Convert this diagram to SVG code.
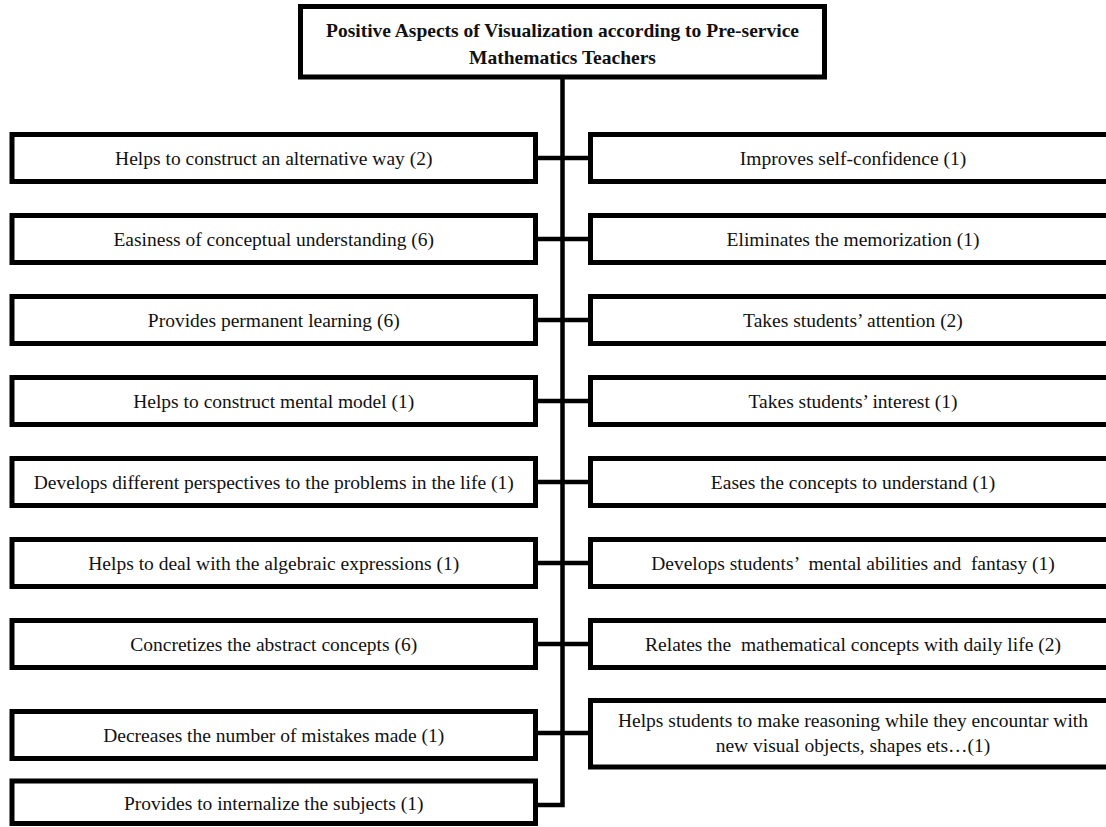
<svg xmlns="http://www.w3.org/2000/svg" width="1106" height="827" viewBox="0 0 1106 827">
<style>
.box{fill:#fff;stroke:#000;stroke-width:5}
.t{font-family:"Liberation Serif","Times New Roman",serif;font-size:19.5px;fill:#111;text-anchor:middle;white-space:pre}
.tb{font-weight:bold}
.con{fill:none;stroke:#000;stroke-width:4.5;stroke-linejoin:miter}
</style>
<rect width="1106" height="827" fill="#fff"/>
<g id="connectors">
<path class="con" d="M562.5 79 V805 H535.5"/>
<path class="con" d="M535.5 158 H590.5 M535.5 239 H590.5 M535.5 320 H590.5 M535.5 401 H590.5 M535.5 482 H590.5 M535.5 563 H590.5 M535.5 644 H590.5 M535.5 733 H590.5"/>
</g>
<g id="title">
<rect class="box" x="300.5" y="6.5" width="524" height="70.5"/>
<text class="t tb" x="562.5" y="37">Positive Aspects of Visualization according to Pre-service</text>
<text class="t tb" x="562.5" y="64">Mathematics Teachers</text>
</g>
<g id="L1"><rect class="box" x="12" y="134.5" width="523.5" height="47"/><text class="t" x="273.75" y="164.5">Helps to construct an alternative way (2)</text></g>
<g id="L2"><rect class="box" x="12" y="215.5" width="523.5" height="47"/><text class="t" x="273.75" y="245.5">Easiness of conceptual understanding (6)</text></g>
<g id="L3"><rect class="box" x="12" y="296.5" width="523.5" height="47"/><text class="t" x="273.75" y="326.5">Provides permanent learning (6)</text></g>
<g id="L4"><rect class="box" x="12" y="377.5" width="523.5" height="47"/><text class="t" x="273.75" y="407.5">Helps to construct mental model (1)</text></g>
<g id="L5"><rect class="box" x="12" y="458.5" width="523.5" height="47"/><text class="t" x="273.75" y="488.5">Develops different perspectives to the problems in the life (1)</text></g>
<g id="L6"><rect class="box" x="12" y="539.5" width="523.5" height="47"/><text class="t" x="273.75" y="569.5">Helps to deal with the algebraic expressions (1)</text></g>
<g id="L7"><rect class="box" x="12" y="620.5" width="523.5" height="47"/><text class="t" x="273.75" y="650.5">Concretizes the abstract concepts (6)</text></g>
<g id="L8"><rect class="box" x="12" y="711.5" width="523.5" height="47"/><text class="t" x="273.75" y="741.5">Decreases the number of mistakes made (1)</text></g>
<g id="L9"><rect class="box" x="12" y="781" width="523.5" height="42.5"/><text class="t" x="273.75" y="810">Provides to internalize the subjects (1)</text></g>
<g id="R1"><rect class="box" x="590.5" y="134.5" width="530" height="47"/><text class="t" x="853" y="164.5">Improves self-confidence (1)</text></g>
<g id="R2"><rect class="box" x="590.5" y="215.5" width="530" height="47"/><text class="t" x="853" y="245.5">Eliminates the memorization (1)</text></g>
<g id="R3"><rect class="box" x="590.5" y="296.5" width="530" height="47"/><text class="t" x="853" y="326.5">Takes students’ attention (2)</text></g>
<g id="R4"><rect class="box" x="590.5" y="377.5" width="530" height="47"/><text class="t" x="853" y="407.5">Takes students’ interest (1)</text></g>
<g id="R5"><rect class="box" x="590.5" y="458.5" width="530" height="47"/><text class="t" x="853" y="488.5">Eases the concepts to understand (1)</text></g>
<g id="R6"><rect class="box" x="590.5" y="539.5" width="530" height="47"/><text class="t" x="853" y="569.5" xml:space="preserve">Develops students’  mental abilities and  fantasy (1)</text></g>
<g id="R7"><rect class="box" x="590.5" y="620.5" width="530" height="47"/><text class="t" x="853" y="650.5" xml:space="preserve">Relates the  mathematical concepts with daily life (2)</text></g>
<g id="R8"><rect class="box" x="590.5" y="700.5" width="530" height="66.5"/><text class="t" x="853" y="727">Helps students to make reasoning while they encountar with</text><text class="t" x="853" y="752">new visual objects, shapes ets…(1)</text></g>
</svg>
